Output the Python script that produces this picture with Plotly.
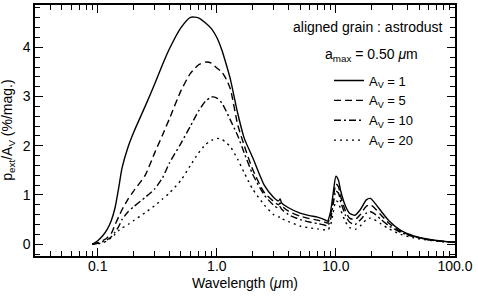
import plotly.graph_objects as go

wavelength = [0.09, 0.1, 0.11, 0.12, 0.13, 0.14, 0.15, 0.16, 0.18, 0.2, 0.25, 0.3, 0.35, 0.4,
              0.5, 0.6, 0.7, 0.8, 0.9, 1.0, 1.1, 1.2, 1.3, 1.5, 1.7, 2.0, 2.5, 3.0, 3.3, 3.4,
              3.5, 4.0, 5.0, 6.0, 7.0, 8.0, 8.5, 9.0, 9.5, 10.0, 10.5, 11.0, 12.0, 13.0, 14.5,
              16.0, 18.0, 19.5, 21.0, 24.0, 28.0, 35.0, 45.0, 60.0, 80.0, 100.0]

p_av1 = [0.0, 0.07, 0.17, 0.3, 0.48, 0.75, 1.15, 1.55, 1.98, 2.27, 2.8, 3.25, 3.65, 3.97,
         4.4, 4.61, 4.6, 4.5, 4.38, 4.2, 3.95, 3.65, 3.35, 2.65, 2.15, 1.76, 1.2, 0.95, 0.88, 0.92,
         0.84, 0.74, 0.63, 0.58, 0.55, 0.5, 0.47, 0.65, 1.05, 1.38, 1.3, 1.07, 0.78, 0.63, 0.59,
         0.7, 0.9, 0.93, 0.85, 0.67, 0.47, 0.28, 0.17, 0.1, 0.06, 0.04]

p_av5 = [0.0, 0.03, 0.07, 0.13, 0.22, 0.4, 0.56, 0.7, 0.92, 1.08, 1.4, 1.85, 2.22, 2.55,
         3.12, 3.47, 3.64, 3.70, 3.68, 3.58, 3.5, 3.35, 3.15, 2.42, 2.0, 1.52, 1.05, 0.87, 0.8, 0.84,
         0.78, 0.67, 0.57, 0.52, 0.49, 0.45, 0.43, 0.58, 0.92, 1.22, 1.17, 0.96, 0.68, 0.53, 0.5,
         0.6, 0.77, 0.8, 0.74, 0.59, 0.42, 0.26, 0.16, 0.09, 0.055, 0.04]

p_av10 = [0.0, 0.02, 0.05, 0.09, 0.15, 0.25, 0.36, 0.5, 0.66, 0.76, 0.95, 1.12, 1.35, 1.65,
          2.05, 2.4, 2.7, 2.9, 2.99, 2.97, 2.87, 2.7, 2.52, 2.2, 1.85, 1.42, 1.0, 0.79, 0.73, 0.76,
          0.71, 0.6, 0.5, 0.45, 0.42, 0.39, 0.37, 0.5, 0.82, 1.08, 1.04, 0.85, 0.59, 0.45, 0.4,
          0.49, 0.63, 0.66, 0.62, 0.5, 0.37, 0.24, 0.15, 0.09, 0.055, 0.04]

p_av20 = [0.0, 0.01, 0.03, 0.07, 0.13, 0.2, 0.28, 0.33, 0.4, 0.48, 0.64, 0.78, 0.92, 1.04,
          1.3, 1.6, 1.85, 2.02, 2.11, 2.15, 2.13, 2.06, 1.98, 1.72, 1.45, 1.12, 0.8, 0.6, 0.55, 0.56,
          0.52, 0.46, 0.37, 0.33, 0.31, 0.29, 0.28, 0.38, 0.65, 0.88, 0.85, 0.69, 0.46, 0.34, 0.3,
          0.37, 0.5, 0.53, 0.5, 0.41, 0.31, 0.2, 0.13, 0.08, 0.05, 0.035]

series_names = ["A<sub>V</sub> = 1", "A<sub>V</sub> = 5", "A<sub>V</sub> = 10", "A<sub>V</sub> = 20"]
series_values = [p_av1, p_av5, p_av10, p_av20]
dash_styles = ["solid", "7px,4px", "7px,3px,2px,3px", "2px,4px"]

x_tick_vals = [0.1, 1.0, 10.0, 100.0]
x_tick_text = ["0.1", "1.0", "10.0", "100.0"]
x_minor_vals = [m * 10 ** e for e in (-2, -1, 0, 1) for m in range(2, 10)]

FONT = "Liberation Sans, Arial, Helvetica, sans-serif"
TXT = dict(family=FONT, size=14, color="black")

fig = go.Figure()
for name, vals, dash in zip(series_names, series_values, dash_styles):
    fig.add_trace(go.Scatter(x=wavelength, y=vals, mode="lines", name=name,
                             line=dict(color="black", width=1.4, dash=dash, shape="spline", smoothing=0.6)))

axis_common = dict(showline=True, linecolor="black", linewidth=1.5, mirror="ticks",
                   ticks="inside", tickcolor="black", showgrid=False, zeroline=False,
                   automargin=False, tickfont=TXT)

fig.update_xaxes(type="log", range=[-1.527, 2.0], tickmode="array", tickvals=x_tick_vals,
                 ticktext=x_tick_text, ticklen=8, tickwidth=1, ticklabelstandoff=-4,
                 minor=dict(tickmode="array", tickvals=x_minor_vals, ticks="inside", ticklen=5,
                            tickcolor="black", showgrid=False),
                 **axis_common)
fig.update_yaxes(range=[-0.24, 4.86], tickmode="linear", tick0=0, dtick=1, ticklen=8, tickwidth=1,
                 minor=dict(dtick=0.2, ticks="inside", ticklen=5, tickcolor="black", showgrid=False),
                 **axis_common)

# axis titles
fig.add_annotation(x=0.5, y=-0.108, xref="paper", yref="paper", xanchor="center", yanchor="middle",
                   text="Wavelength (<i>μ</i>m)", showarrow=False, font=TXT)
fig.add_annotation(x=-0.04, y=0.5, xref="paper", yref="paper", xanchor="right", yanchor="middle",
                   text="p<sub>ext</sub>/A<sub>V</sub> (%/mag.)", textangle=-90, showarrow=False, font=TXT)

fig.add_annotation(x=0.975, y=0.912, xref="paper", yref="paper", xanchor="right", yanchor="middle",
                   text="aligned grain : astrodust", showarrow=False, font=TXT)
fig.add_annotation(x=0.80, y=0.80, xref="paper", yref="paper", xanchor="center", yanchor="middle",
                   text="a<sub>max</sub> = 0.50 <i>μ</i>m", showarrow=False, font=TXT)

fig.update_layout(width=478, height=297, margin=dict(l=35, r=23, t=5, b=41),
                  paper_bgcolor="white", plot_bgcolor="white",
                  showlegend=True,
                  legend=dict(x=0.70, y=0.759, xanchor="left", yanchor="top",
                              bgcolor="rgba(0,0,0,0)", font=dict(family=FONT, size=13, color="black"),
                              itemwidth=30, tracegroupgap=0))

fig.write_html("out.html", config={"displayModeBar": False},
               post_script="document.body.style.margin='0px';")
